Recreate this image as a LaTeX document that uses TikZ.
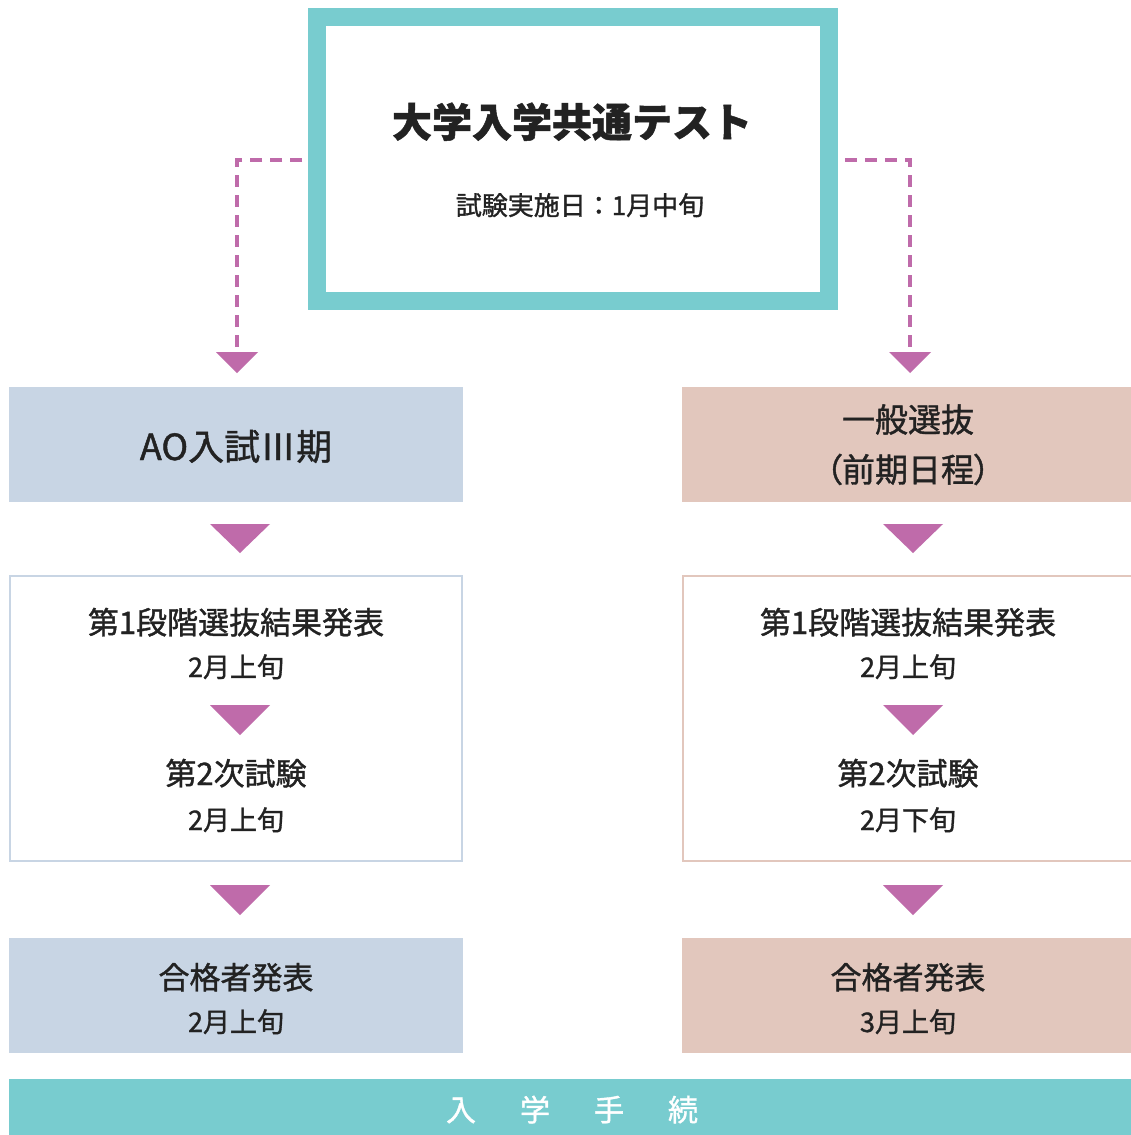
\documentclass[tikz,border=0pt]{standalone}
\usepackage{fontspec}
\newfontfamily\jp{Noto Sans CJK JP}[FakeBold=1.2]
\newfontfamily\jpb{Noto Sans CJK JP Bold}
\newfontfamily\jpp{Noto Sans CJK JP}[RawFeature=+palt,FakeBold=1.2]
\definecolor{tealc}{HTML}{78CCCF}
\definecolor{magc}{HTML}{BF6BAA}
\definecolor{bluec}{HTML}{C8D5E4}
\definecolor{pinkc}{HTML}{E2C7BD}
\definecolor{inkc}{HTML}{222222}
\newcommand{\fsz}[1]{\fontsize{#1}{#1}\selectfont}
\tikzset{
  lbl/.style={anchor=base, inner sep=0pt, text=inkc},
  fillbox/.style={draw=none, inner sep=0pt, minimum height=115pt},
  framebox/.style={line width=2pt, fill=white, inner sep=0pt, minimum height=285pt},
  dashline/.style={draw=magc, line width=3.5pt, dash pattern=on 12pt off 8pt},
  tri/.style={fill=magc},
}
\begin{document}
\begin{tikzpicture}[x=1pt,y=-1pt]
\useasboundingbox (0,0) rectangle (1131,1135);
\fill[white] (0,0) rectangle (1131,1135);

% top box
\node[draw=tealc, line width=18pt, fill=white, minimum width=512pt, minimum height=284pt, inner sep=0pt] (top) at (573,159) {};
\node[lbl, font={\jp\bfseries\fsz{40}}] (title) at (572,137) {大学入学共通テスト};
\node[lbl, font={\jp\fsz{26}}] (sub) at (580,215) {試験実施日：1月中旬};

% dashed connectors
\coordinate (dl) at (237,352);
\coordinate (dr) at (910,352);
\draw[dashline] ([shift={(-6,1)}]top.west) -| (dl);
\draw[dashline] ([shift={(7,1)}]top.east) -| (dr);
\fill[magc] (216,352) -- (258,352) -- (237,373) -- cycle;
\fill[magc] (889,352) -- (931,352) -- (910,373) -- cycle;

% row 1
\node[fillbox, fill=bluec, minimum width=454pt] (ao) at (236,444.5) {};
\node[lbl, font={\jp\fsz{36}}] (aot) at (236,460) {AO入試Ⅲ期};
\node[fillbox, fill=pinkc, minimum width=449pt] (ip) at (906.5,444.5) {};
\node[lbl, font={\jp\fsz{33}}] (ipt1) at (908,432) {一般選抜};
\node[lbl, font={\jpp\fsz{33}}] (ipt2) at (908,482) {（前期日程）};

\fill[magc] (210,524) -- (270,524) -- (240,553) -- cycle;
\fill[magc] (883,524) -- (943,524) -- (913,553) -- cycle;

% row 2
\node[framebox, draw=bluec, minimum width=452pt] (l2) at (236,718.5) {};
\node[framebox, draw=pinkc, minimum width=452pt] (r2) at (909,718.5) {};
\node[lbl, font={\jp\fsz{31}}] (l2a) at (236,634) {第1段階選抜結果発表};
\node[lbl, font={\jp\fsz{27}}] (l2b) at (236,677) {2月上旬};
\node[lbl, font={\jp\fsz{31}}] (l2c) at (236,785) {第2次試験};
\node[lbl, font={\jp\fsz{27}}] (l2d) at (236,830) {2月上旬};
\node[lbl, font={\jp\fsz{31}}] (r2a) at (908,634) {第1段階選抜結果発表};
\node[lbl, font={\jp\fsz{27}}] (r2b) at (908,677) {2月上旬};
\node[lbl, font={\jp\fsz{31}}] (r2c) at (908,785) {第2次試験};
\node[lbl, font={\jp\fsz{27}}] (r2d) at (908,830) {2月下旬};
\fill[magc] (210,705) -- (270,705) -- (240,735) -- cycle;
\fill[magc] (883,705) -- (943,705) -- (913,735) -- cycle;

\fill[magc] (210,885) -- (270,885) -- (240,915) -- cycle;
\fill[magc] (883,885) -- (943,885) -- (913,915) -- cycle;

% row 3
\node[fillbox, fill=bluec, minimum width=454pt] (l3) at (236,995.5) {};
\node[fillbox, fill=pinkc, minimum width=449pt] (r3) at (906.5,995.5) {};
\node[lbl, font={\jp\fsz{31}}] (l3a) at (236,989) {合格者発表};
\node[lbl, font={\jp\fsz{27}}] (l3b) at (236,1032) {2月上旬};
\node[lbl, font={\jp\fsz{31}}] (r3a) at (908,989) {合格者発表};
\node[lbl, font={\jp\fsz{27}}] (r3b) at (908,1032) {3月上旬};

% bottom bar
\node[draw=none, fill=tealc, inner sep=0pt, minimum width=1122pt, minimum height=56pt] (bar) at (570,1107) {};
\node[lbl, text=white, font={\jp\fsz{30}}] (bart) at (572,1121) {入\hspace{44pt}学\hspace{44pt}手\hspace{44pt}続};
\end{tikzpicture}
\end{document}
